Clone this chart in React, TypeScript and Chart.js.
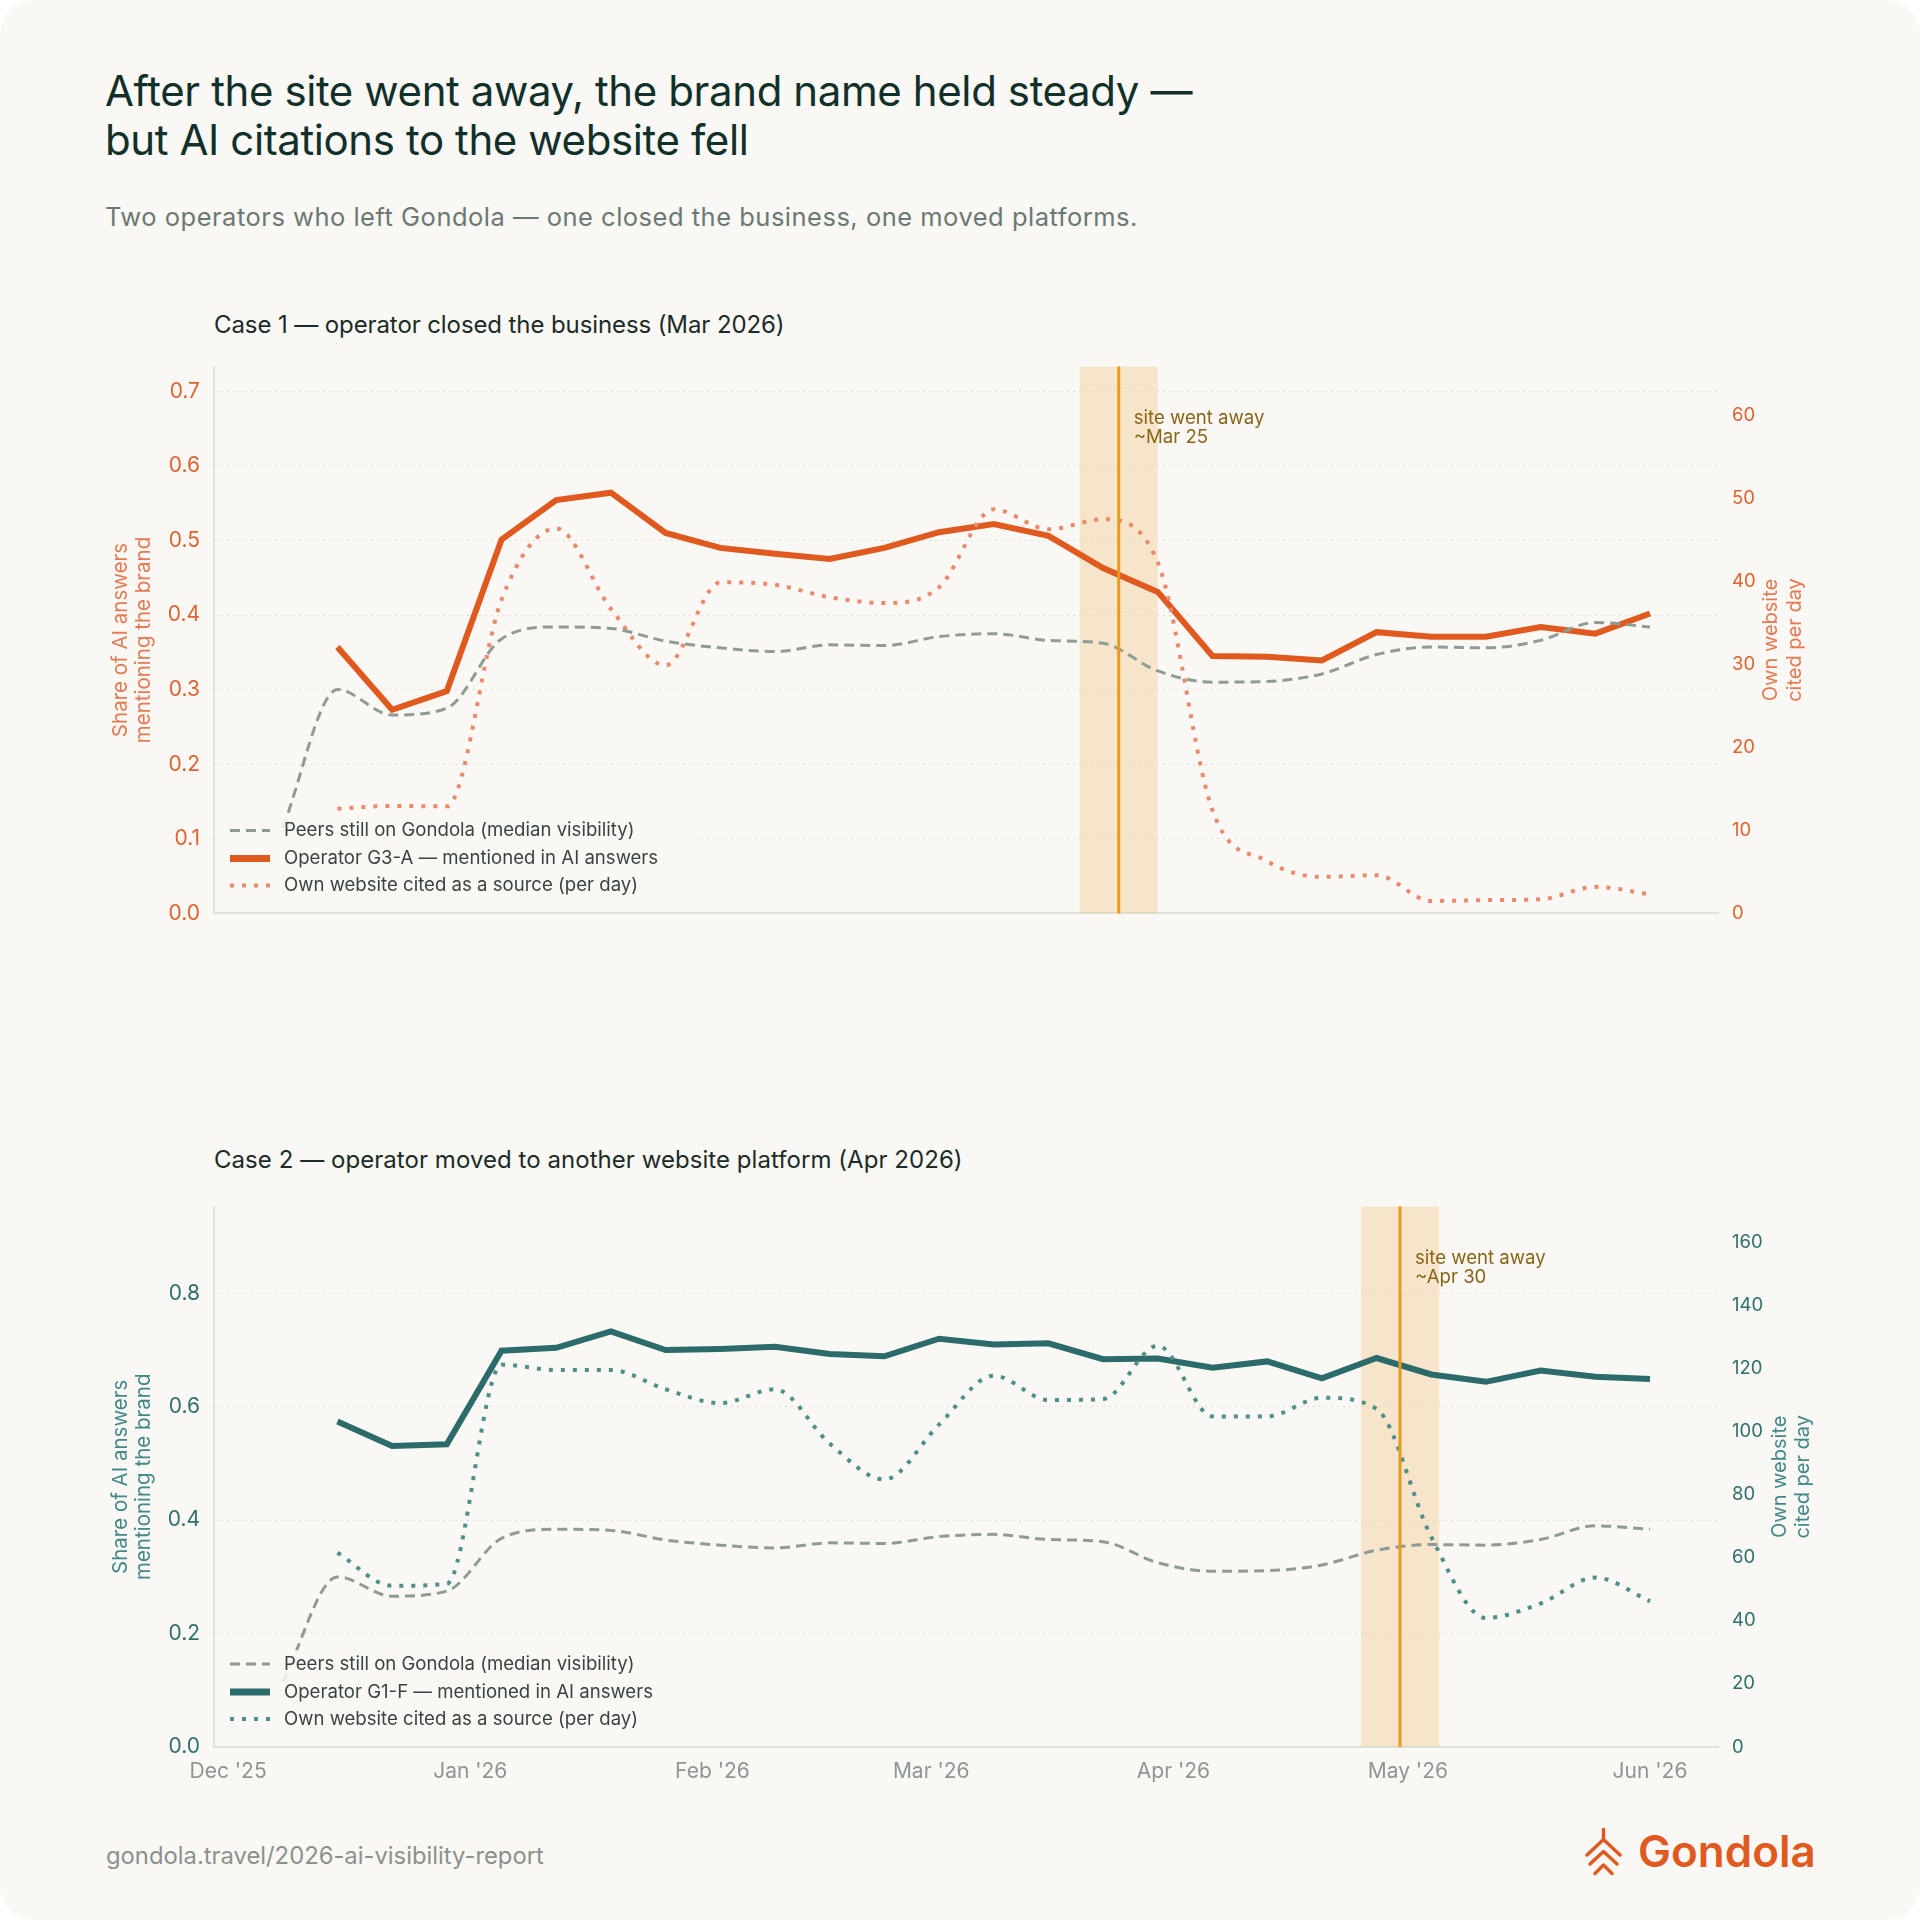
import React, { useEffect, useRef } from 'react';
import { Chart, registerables } from 'chart.js';

Chart.register(...registerables);

const FONT = 'Inter, "Noto Sans", sans-serif';

// ---------- data ----------
const weekDates = [
  '2025-12-15', '2025-12-22', '2025-12-29', '2026-01-05', '2026-01-12', '2026-01-19', '2026-01-26',
  '2026-02-02', '2026-02-09', '2026-02-16', '2026-02-23', '2026-03-02', '2026-03-09', '2026-03-16',
  '2026-03-23', '2026-03-30', '2026-04-06', '2026-04-13', '2026-04-20', '2026-04-27', '2026-05-04',
  '2026-05-11', '2026-05-18', '2026-05-25', '2026-06-01',
];
const peerDates = ['2025-12-08', ...weekDates];
const peersMedian = [
  0.115, 0.300, 0.266, 0.275, 0.368, 0.384, 0.382, 0.365, 0.356, 0.351, 0.360, 0.359, 0.371,
  0.375, 0.366, 0.362, 0.325, 0.310, 0.311, 0.321, 0.347, 0.357, 0.356, 0.366, 0.390, 0.384,
];
const case1Mentions = [
  0.357, 0.273, 0.298, 0.501, 0.554, 0.564, 0.510, 0.490, 0.482, 0.475, 0.490, 0.511, 0.522,
  0.506, 0.463, 0.431, 0.345, 0.344, 0.339, 0.377, 0.371, 0.371, 0.384, 0.375, 0.402,
];
const case1Cites = [
  12.6, 12.95, 12.9, 37.8, 46.4, 36.7, 29.9, 39.9, 39.6, 38.1, 37.4, 39.3, 48.7,
  46.3, 47.5, 42.3, 12.4, 6.3, 4.4, 4.6, 1.5, 1.6, 1.7, 3.2, 2.3,
];
const case2Mentions = [
  0.574, 0.531, 0.534, 0.699, 0.704, 0.733, 0.700, 0.702, 0.706, 0.693, 0.689, 0.720, 0.710,
  0.712, 0.684, 0.685, 0.669, 0.680, 0.650, 0.686, 0.657, 0.644, 0.664, 0.653, 0.649,
];
const case2Cites = [
  61.6, 51.1, 51.7, 121.2, 119.5, 119.5, 113.4, 109.0, 113.4, 96.2, 84.8, 102.2, 117.7,
  110.0, 110.3, 127.2, 104.8, 104.8, 110.7, 107.2, 66.6, 40.9, 45.5, 53.7, 46.2,
];
const monthTicks = ['2025-12-01', '2026-01-01', '2026-02-01', '2026-03-01', '2026-04-01', '2026-05-01', '2026-06-01'];
const monthLabels = ["Dec '25", "Jan '26", "Feb '26", "Mar '26", "Apr '26", "May '26", "Jun '26"];
const peersLabel = 'Peers still on Gondola (median visibility)';
const citesLabel = 'Own website cited as a source (per day)';

// ---------- helpers ----------
function dayOf(s: string) {
  const [y, m, d] = s.split('-').map(Number);
  return (Date.UTC(y, m - 1, d) - Date.UTC(2025, 11, 1)) / 86400000;
}

const GRAY = '#8F9B95';
const BAND = 'rgba(240,196,128,0.36)';
const EVENT_LINE = '#E89A1C';
const EVENT_TEXT = '#8A6417';
const AXIS = '#DDE3DF';
const GRID = 'rgba(0,0,0,0.11)';
const CARD = '#F9F8F4';

type PanelCfg = {
  mentions: number[];
  cites: number[];
  operatorLabel: string;
  mainColor: string;
  dotColor: string;
  tickColor: string;
  titleColor: string;
  leftMax: number;
  leftStep: number;
  rightMax: number;
  rightStep: number;
  eventDate: string;
  eventLabel: string[];
  showXTicks: boolean;
  height: number;
  padTop: number;
  xAxisHeight: number;
  leftTitleX: number[];
  rightTitleX: number[];
};

function makePlugin(cfg: PanelCfg) {
  return {
    id: 'panelDecor',
    beforeDatasetsDraw(chart: any) {
      const { ctx, chartArea: ca, scales } = chart;
      const ev = dayOf(cfg.eventDate);
      const x0 = scales.x.getPixelForValue(ev - 5);
      const x1 = scales.x.getPixelForValue(ev + 5);
      ctx.save();
      ctx.fillStyle = BAND;
      ctx.fillRect(x0, ca.top, x1 - x0, ca.bottom - ca.top);
      ctx.restore();
    },
    afterDatasetsDraw(chart: any) {
      const { ctx, chartArea: ca, scales } = chart;
      const ev = dayOf(cfg.eventDate);
      const xe = scales.x.getPixelForValue(ev);
      ctx.save();
      ctx.strokeStyle = EVENT_LINE;
      ctx.lineWidth = 3;
      ctx.beginPath();
      ctx.moveTo(xe, ca.top);
      ctx.lineTo(xe, ca.bottom);
      ctx.stroke();
      ctx.fillStyle = EVENT_TEXT;
      ctx.font = `18.6px ${FONT}`;
      ctx.textAlign = 'left';
      ctx.textBaseline = 'alphabetic';
      ctx.fillText(cfg.eventLabel[0], xe + 15, ca.top + 57);
      ctx.fillText(cfg.eventLabel[1], xe + 15, ca.top + 76.5);

      // legend
      const L = ca.left;
      ctx.fillStyle = 'rgba(249,248,244,0.86)';
      ctx.fillRect(L + 6, ca.bottom - 97, 470, 88);
      const order = [0, 2, 1];
      const offs = [83, 55, 28];
      order.forEach((di, i) => {
        const ds = chart.data.datasets[di];
        const y = ca.bottom - offs[i];
        ctx.beginPath();
        ctx.setLineDash(ds.borderDash || []);
        ctx.lineWidth = di === 2 ? 7 : ds.borderWidth;
        ctx.strokeStyle = ds.borderColor;
        ctx.moveTo(L + 16, y);
        ctx.lineTo(L + 56, y);
        ctx.stroke();
        ctx.setLineDash([]);
        ctx.fillStyle = '#38443F';
        ctx.font = `18.6px ${FONT}`;
        ctx.textBaseline = 'middle';
        ctx.fillText(ds.label, L + 70, y);
      });
      ctx.restore();
    },
    afterDraw(chart: any) {
      const { ctx, chartArea: ca } = chart;
      const cy = (ca.top + ca.bottom) / 2;
      ctx.save();
      ctx.fillStyle = cfg.titleColor;
      ctx.textAlign = 'center';
      ctx.textBaseline = 'middle';
      const items: [number, string, number][] = [
        [cfg.leftTitleX[0], 'Share of AI answers', 20.5],
        [cfg.leftTitleX[1], 'mentioning the brand', 20.5],
        [cfg.rightTitleX[0], 'Own website', 20],
        [cfg.rightTitleX[1], 'cited per day', 20],
      ];
      items.forEach(([x, t, fs]) => {
        ctx.save();
        ctx.font = `${fs}px ${FONT}`;
        ctx.translate(x, cy);
        ctx.rotate(-Math.PI / 2);
        ctx.fillText(t, 0, 0);
        ctx.restore();
      });
      ctx.restore();
    },
  };
}

function Panel({ cfg, top }: { cfg: PanelCfg; top: number }) {
  const ref = useRef<HTMLCanvasElement>(null);
  useEffect(() => {
    const canvas = ref.current!;
    const chart = new Chart(canvas, {
      type: 'line',
      data: {
        datasets: [
          {
            label: peersLabel,
            data: peerDates.map((d, i) => ({ x: dayOf(d), y: peersMedian[i] })),
            yAxisID: 'y',
            borderColor: GRAY,
            borderWidth: 3,
            borderDash: [10, 6],
            cubicInterpolationMode: 'monotone',
            pointRadius: 0,
            fill: false,
          },
          {
            label: citesLabel,
            data: weekDates.map((d, i) => ({ x: dayOf(d), y: cfg.cites[i] })),
            yAxisID: 'y1',
            borderColor: cfg.dotColor,
            borderWidth: 4,
            borderDash: [4, 8],
            cubicInterpolationMode: 'monotone',
            pointRadius: 0,
            fill: false,
          },
          {
            label: cfg.operatorLabel,
            data: weekDates.map((d, i) => ({ x: dayOf(d), y: cfg.mentions[i] })),
            yAxisID: 'y',
            borderColor: cfg.mainColor,
            borderWidth: 6,
            tension: 0,
            pointRadius: 0,
            fill: false,
          },
        ],
      } as any,
      options: {
        responsive: false,
        animation: false,
        devicePixelRatio: 1,
        layout: { padding: { top: cfg.padTop, bottom: 0, left: 0, right: 0 } },
        plugins: {
          legend: { display: false },
          tooltip: { enabled: false },
          title: { display: false },
        },
        scales: {
          x: {
            type: 'linear',
            min: -1.8,
            max: 190.7,
            afterBuildTicks: (s: any) => {
              s.ticks = monthTicks.map((m) => ({ value: dayOf(m) }));
            },
            afterFit: (s: any) => {
              s.height = cfg.xAxisHeight;
            },
            ticks: {
              display: cfg.showXTicks,
              autoSkip: false,
              maxRotation: 0,
              padding: 12,
              color: '#8D9692',
              font: { family: FONT, size: 21 },
              callback: (v: any) => {
                const i = monthTicks.findIndex((m) => Math.abs(dayOf(m) - Number(v)) < 0.01);
                return i >= 0 ? monthLabels[i] : '';
              },
            },
            grid: { display: false, drawTicks: false },
            border: { display: true, color: AXIS, width: 2 },
          },
          y: {
            position: 'left',
            min: 0,
            max: cfg.leftMax,
            afterFit: (s: any) => {
              s.width = 214;
            },
            ticks: {
              stepSize: cfg.leftStep,
              includeBounds: false,
              padding: 14,
              color: cfg.tickColor,
              font: { family: FONT, size: 21 },
              callback: (v: any) => Number(v).toFixed(1),
            },
            grid: { color: GRID, lineWidth: 1, drawTicks: false },
            border: { display: true, color: AXIS, width: 2, dash: [2, 4] },
          },
          y1: {
            position: 'right',
            min: 0,
            max: cfg.rightMax,
            afterFit: (s: any) => {
              s.width = 202;
            },
            ticks: {
              stepSize: cfg.rightStep,
              includeBounds: false,
              padding: 14,
              color: cfg.tickColor,
              font: { family: FONT, size: 18.5 },
              callback: (v: any) => String(Math.round(Number(v))),
            },
            grid: { display: false, drawTicks: false },
            border: { display: false },
          },
        },
      } as any,
      plugins: [makePlugin(cfg)],
    });
    return () => chart.destroy();
  }, []);
  return (
    <canvas
      ref={ref}
      width={1920}
      height={cfg.height}
      style={{ position: 'absolute', left: 0, top, width: 1920, height: cfg.height }}
    />
  );
}

const case1Cfg: PanelCfg = {
  mentions: case1Mentions,
  cites: case1Cites,
  operatorLabel: 'Operator G3-A — mentioned in AI answers',
  mainColor: '#E0591F',
  dotColor: '#E98A6C',
  tickColor: '#E0622E',
  titleColor: '#E67A52',
  leftMax: 0.733,
  leftStep: 0.1,
  rightMax: 65.9,
  rightStep: 10,
  eventDate: '2026-03-25',
  eventLabel: ['site went away', '~Mar 25'],
  showXTicks: false,
  height: 600,
  padTop: 25,
  xAxisHeight: 26,
  leftTitleX: [121, 144],
  rightTitleX: [1771, 1795],
};

const case2Cfg: PanelCfg = {
  mentions: case2Mentions,
  cites: case2Cites,
  operatorLabel: 'Operator G1-F — mentioned in AI answers',
  mainColor: '#2B6B69',
  dotColor: '#4F8F8B',
  tickColor: '#2F6F6C',
  titleColor: '#44898A',
  leftMax: 0.953,
  leftStep: 0.2,
  rightMax: 171.3,
  rightStep: 20,
  eventDate: '2026-04-30',
  eventLabel: ['site went away', '~Apr 30'],
  showXTicks: true,
  height: 620,
  padTop: 19,
  xAxisHeight: 53,
  leftTitleX: [121, 144],
  rightTitleX: [1780, 1803],
};

export default function App() {
  return (
    <div style={{ position: 'absolute', left: 0, top: 0, width: 1920, height: 1920, background: '#FFFFFF', fontFamily: FONT }}>
      <div style={{ position: 'absolute', left: 0, top: 0, width: 1920, height: 1920, background: CARD, borderRadius: 34, overflow: 'hidden' }}>
        <div style={{ position: 'absolute', left: 105, top: 66, fontSize: 42, lineHeight: '49px', letterSpacing: '-0.4px', color: '#12302A', whiteSpace: 'nowrap' }}>
          After the site went away, the brand name held steady —<br />but AI citations to the website fell
        </div>
        <div style={{ position: 'absolute', left: 105, top: 202, fontSize: 25.5, lineHeight: 1.2, letterSpacing: '0.5px', color: '#6C7873', whiteSpace: 'nowrap' }}>
          Two operators who left Gondola — one closed the business, one moved platforms.
        </div>
        <div style={{ position: 'absolute', left: 214, top: 311, fontSize: 24, lineHeight: 1.2, letterSpacing: '-0.1px', color: '#1C2B27', whiteSpace: 'nowrap' }}>
          Case 1 — operator closed the business (Mar 2026)
        </div>
        <div style={{ position: 'absolute', left: 214, top: 1146, fontSize: 24, lineHeight: 1.2, letterSpacing: '0.05px', color: '#1C2B27', whiteSpace: 'nowrap' }}>
          Case 2 — operator moved to another website platform (Apr 2026)
        </div>
        <Panel cfg={case1Cfg} top={340} />
        <Panel cfg={case2Cfg} top={1180} />
        <div style={{ position: 'absolute', left: 106, top: 1842, fontSize: 23.8, lineHeight: 1.2, color: '#8B918D', whiteSpace: 'nowrap' }}>
          gondola.travel/2026-ai-visibility-report
        </div>
        <svg width="38" height="50" viewBox="0 0 38 50" style={{ position: 'absolute', left: 1585, top: 1828 }}>
          <g fill="none" stroke="#E0591F" strokeWidth="3.4" strokeLinecap="round" strokeLinejoin="round">
            <line x1="18.5" y1="1.5" x2="18.5" y2="12" />
            <path d="M2 27 L18.5 11.5 L35 27" />
            <path d="M5 36 L18.5 23.5 L32 36" />
            <path d="M10 45.5 L18.5 37 L27 45.5" />
          </g>
        </svg>
        <div style={{ position: 'absolute', left: 1638, top: 1825, fontSize: 44, fontWeight: 600, lineHeight: 1.2, color: '#E0591F', whiteSpace: 'nowrap' }}>
          Gondola
        </div>
      </div>
    </div>
  );
}
